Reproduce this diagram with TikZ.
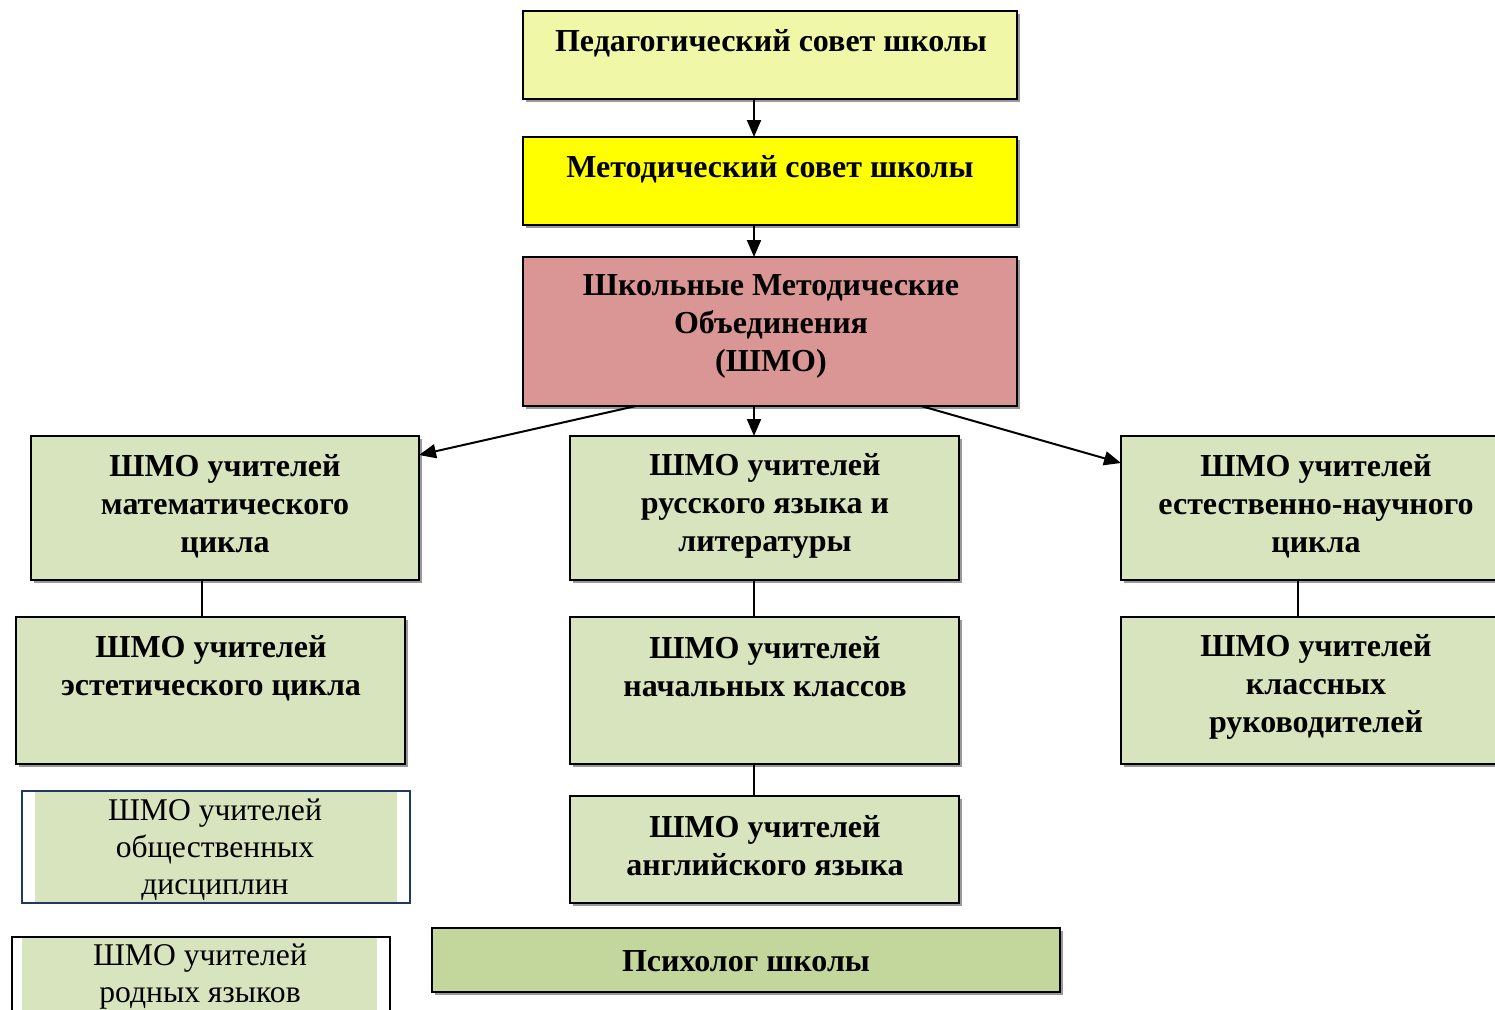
\documentclass[tikz,border=0pt]{standalone}
\usepackage{fontspec}
\setmainfont{Liberation Serif}
\usetikzlibrary{arrows.meta}
\definecolor{cpale}{HTML}{F0F8A8}
\definecolor{cyel}{HTML}{FFFF00}
\definecolor{cpink}{HTML}{D99694}
\definecolor{cgreen}{HTML}{D7E4BD}
\definecolor{colive}{HTML}{C3D69B}
\definecolor{cnavy}{HTML}{1F3864}
\tikzset{
  box/.style={draw=black, line width=2pt},
  shad/.style={fill=black!40},
  boxnode/.style={inner sep=0pt, outer sep=0pt},
  btxt/.style={font=\fontsize{32}{38}\selectfont\bfseries, align=center, inner sep=0pt},
  rtxt/.style={font=\fontsize{31.6}{37}\selectfont, align=center, inner sep=0pt},
  arr/.style={line width=2pt, -{Triangle[length=17pt,width=14pt]}},
  conn/.style={line width=1.8pt},
}
\begin{document}
\begin{tikzpicture}[x=1pt,y=-1pt]
\useasboundingbox (0,0) rectangle (1495,1009);
\clip (0,0) rectangle (1495,1009);
% shadows
\foreach \a/\b/\c/\d in {523/11/1017/99, 523/137/1017/225, 523/257/1017/406, 31/436/419/580, 570/436/959/580, 1121/436/1510/580, 16/617/405/764, 570/617/959/764, 1121/617/1510/764, 570/796/959/903, 432/928/1060/992}
  \fill[shad] (\a+2.5,\b+2.5) rectangle (\c+2.5,\d+2.5);
% boxes
\node[boxnode, minimum width=494pt, minimum height=88pt] (ped) at (770,55) {};
\draw[box, fill=cpale] (523,11) rectangle (1017,99);
\node[boxnode, minimum width=494pt, minimum height=88pt] (met) at (770,181) {};
\draw[box, fill=cyel] (523,137) rectangle (1017,225);
\node[boxnode, minimum width=494pt, minimum height=149pt] (shmo) at (770,331.5) {};
\draw[box, fill=cpink] (523,257) rectangle (1017,406);
\node[boxnode, minimum width=388pt, minimum height=144pt] (ma) at (225,508) {};
\draw[box, fill=cgreen] (31,436) rectangle (419,580);
\node[boxnode, minimum width=389pt, minimum height=144pt] (ru) at (764.5,508) {};
\draw[box, fill=cgreen] (570,436) rectangle (959,580);
\node[boxnode, minimum width=389pt, minimum height=144pt] (es) at (1315.5,508) {};
\draw[box, fill=cgreen] (1121,436) rectangle (1510,580);
\node[boxnode, minimum width=389pt, minimum height=147pt] (et) at (210.5,690.5) {};
\draw[box, fill=cgreen] (16,617) rectangle (405,764);
\node[boxnode, minimum width=389pt, minimum height=147pt] (na) at (764.5,690.5) {};
\draw[box, fill=cgreen] (570,617) rectangle (959,764);
\node[boxnode, minimum width=389pt, minimum height=147pt] (kl) at (1315.5,690.5) {};
\draw[box, fill=cgreen] (1121,617) rectangle (1510,764);
\node[boxnode, minimum width=389pt, minimum height=107pt] (an) at (764.5,849.5) {};
\draw[box, fill=cgreen] (570,796) rectangle (959,903);
\node[boxnode, minimum width=628pt, minimum height=64pt] (ps) at (746,960) {};
\draw[box, fill=colive] (432,928) rectangle (1060,992);
% plain boxes
\fill[cgreen] (35,792) rectangle (397,902);
\draw[draw=cnavy, line width=1.5pt] (22,791) rectangle (410,903);
\node[boxnode, minimum width=388pt, minimum height=112pt] (ob) at (216,847) {};
\fill[cgreen] (22,938) rectangle (377,1015);
\draw[draw=black, line width=1.5pt] (12,937) rectangle (390,1030);
\node[boxnode, minimum width=378pt, minimum height=80pt] (ro) at (201,977) {};
% texts
\node[btxt] (t1) at (771,43) {Педагогический совет школы};
\node[btxt] (t2) at (770,169) {Методический совет школы};
\node[btxt] (t3) at (771,326) {Школьные Методические\\Объединения\\(ШМО)};
\node[btxt] (ta) at (225,506) {ШМО учителей\\математического\\цикла};
\node[btxt] (tb) at (765,506) {ШМО учителей\\русского языка и\\литературы};
\node[btxt] (tc) at (1316,506) {ШМО учителей\\естественно-научного\\цикла};
\node[btxt] (td) at (211,668) {ШМО учителей\\эстетического цикла};
\node[btxt] (te) at (765,667) {ШМО учителей\\начальных классов};
\node[btxt] (tf) at (1316,687) {ШМО учителей\\классных\\руководителей};
\node[btxt] (tg) at (765,846) {ШМО учителей\\английского языка};
\node[rtxt] (th) at (215,850) {ШМО учителей\\общественных\\дисциплин};
\node[rtxt] (ti) at (200,977) {ШМО учителей\\родных языков};
\node[btxt] (tj) at (746,961) {Психолог школы};
% connectors
\draw[arr] (ped.south -| 754,0) -- (met.north -| 754,0);
\draw[arr] (met.south -| 754,0) -- (shmo.north -| 754,0);
\draw[arr] (shmo.south -| 754,0) -- (ru.north -| 754,0);
\draw[arr] (shmo.south -| 636,0) -- (ma.east |- 0,455);
\draw[arr] (shmo.south -| 921,0) -- (es.west |- 0,463);
\draw[conn] (ma.south -| 202,0) -- (et.north -| 202,0);
\draw[conn] (ru.south -| 754,0) -- (na.north -| 754,0);
\draw[conn] (es.south -| 1298,0) -- (kl.north -| 1298,0);
\draw[conn] (na.south -| 754,0) -- (an.north -| 754,0);
\end{tikzpicture}
\end{document}
